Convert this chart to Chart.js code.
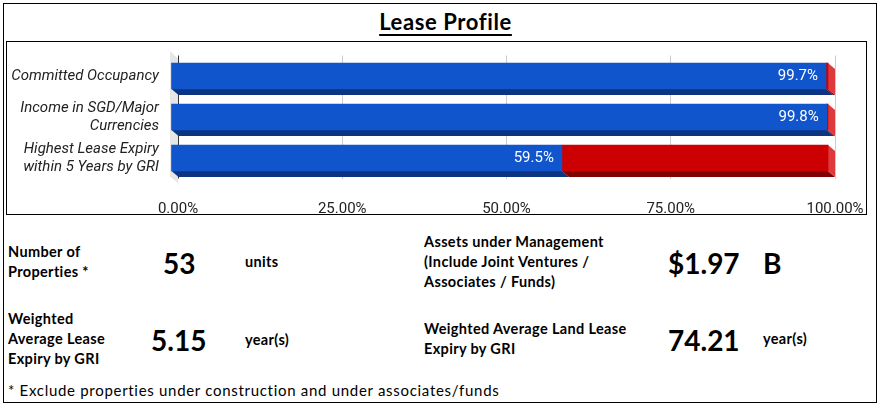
<!DOCTYPE html>
<html>
<head>
<meta charset="utf-8">
<script src="https://cdn.jsdelivr.net/npm/chart.js@4/dist/chart.umd.min.js"></script>
<style>
  html, body { margin: 0; padding: 0; background: #fff; }
  body { width: 883px; height: 409px; position: relative; overflow: hidden; font-family: Lato, "Open Sans", sans-serif; color: #000; }
  #outer { position: absolute; left: 3px; top: 3px; width: 874px; height: 400px; border: 1px solid #000; box-sizing: border-box; }
  #title { position: absolute; left: 4px; width: 883px; top: 9px; text-align: center; font-weight: 700; font-size: 22px; letter-spacing: 0.6px; line-height: 26px; text-decoration: underline; text-decoration-thickness: 2px; text-underline-offset: 4px; }
  #chartBox { position: absolute; left: 6px; top: 41px; width: 861px; height: 174px; border: 1px solid #000; box-sizing: border-box; }
  #chartBox canvas { position: absolute; left: 0; top: 0; }
  .t { position: absolute; white-space: nowrap; }
  .lbl { font-weight: 700; font-size: 14.5px; letter-spacing: 0.35px; line-height: 20px; }
  .big { font-weight: 700; font-size: 28px; line-height: 28px; }
  .foot { font-size: 15px; letter-spacing: 0.7px; line-height: 20px; }
</style>
</head>
<body>
<div id="outer"></div>
<div id="title">Lease Profile</div>
<div id="chartBox"><canvas id="c" width="859" height="172" style="width:859px;height:172px"></canvas></div>

<div class="t lbl" style="left:8px; top:242px;">Number of<br>Properties *</div>
<div class="t big" style="left:163px; top:249px;">53</div>
<div class="t lbl" style="left:245px; top:252px;">units</div>

<div class="t lbl" style="left:8px; top:309px;">Weighted<br>Average Lease<br>Expiry by GRI</div>
<div class="t big" style="left:151px; top:326px;">5.15</div>
<div class="t lbl" style="left:245px; top:330px;">year(s)</div>

<div class="t lbl" style="left:424px; top:232px;">Assets under Management<br>(Include Joint Ventures /<br>Associates / Funds)</div>
<div class="t big" style="left:668px; top:249px;">$1.97</div>
<div class="t big" style="left:763px; top:249px;">B</div>

<div class="t lbl" style="left:424px; top:319px;">Weighted Average Land Lease<br>Expiry by GRI</div>
<div class="t big" style="left:668px; top:326px;">74.21</div>
<div class="t lbl" style="left:763px; top:329px;">year(s)</div>

<div class="t foot" style="left:8px; top:380px;">* Exclude properties under construction and under associates/funds</div>

<script>
// ---- data ----
const categories = [
  'Committed Occupancy',
  ['Income in SGD/Major', 'Currencies'],
  ['Highest Lease Expiry', 'within 5 Years by GRI']
];
const mainValues = [99.7, 99.8, 59.5];
const restValues = [0.3, 0.2, 40.5];
const valueLabels = ['99.7%', '99.8%', '59.5%'];
const xTicks = [0, 25, 50, 75, 100];

// ---- styling constants ----
const DEPTH_X = 7, DEPTH_Y = 6;
const frontColors = ['#1155cc', '#cc0000'];
const bottomColors = ['#0c3483', '#820000'];
const sideColors = ['#1d4fa8', '#e0393b'];

const threeD = {
  id: 'threeD',
  beforeDatasetsDraw(chart) {
    const ctx = chart.ctx;
    const a = chart.chartArea;
    // left wall
    ctx.save();
    ctx.fillStyle = '#e6e6e6';
    ctx.beginPath();
    ctx.moveTo(a.left - 8, a.top - 4.5);
    ctx.lineTo(a.left, a.top + 3);
    ctx.lineTo(a.left, a.bottom + 4.5);
    ctx.lineTo(a.left - 8, a.bottom - 2);
    ctx.closePath();
    ctx.fill();
    ctx.restore();
    // zero axis line on top of wall
    const x0 = chart.scales.x.getPixelForValue(0);
    ctx.save();
    ctx.strokeStyle = '#333';
    ctx.lineWidth = 1;
    ctx.beginPath();
    ctx.moveTo(Math.round(x0) + 0.5, a.top);
    ctx.lineTo(Math.round(x0) + 0.5, a.bottom);
    ctx.stroke();
    ctx.restore();
    // bottom and side faces
    chart.data.datasets.forEach((ds, di) => {
      const meta = chart.getDatasetMeta(di);
      meta.data.forEach((el) => {
        const p = el.getProps(['x', 'y', 'base', 'height'], true);
        const x1 = p.base - DEPTH_X, x2 = p.x - DEPTH_X;
        const yb = p.y + p.height / 2, yt = p.y - p.height / 2;
        ctx.save();
        ctx.fillStyle = bottomColors[di];
        ctx.beginPath();
        ctx.moveTo(x1, yb);
        ctx.lineTo(x2, yb);
        ctx.lineTo(x2 + DEPTH_X, yb + DEPTH_Y);
        ctx.lineTo(x1 + DEPTH_X, yb + DEPTH_Y);
        ctx.closePath();
        ctx.fill();
        if (di === chart.data.datasets.length - 1) {
          ctx.fillStyle = sideColors[di];
          ctx.beginPath();
          ctx.moveTo(x2, yt);
          ctx.lineTo(x2 + DEPTH_X, yt + DEPTH_Y);
          ctx.lineTo(x2 + DEPTH_X, yb + DEPTH_Y);
          ctx.lineTo(x2, yb);
          ctx.closePath();
          ctx.fill();
        }
        ctx.restore();
      });
    });
    ctx.save();
    ctx.translate(-DEPTH_X, 0);
  },
  afterDatasetsDraw(chart) {
    const ctx = chart.ctx;
    ctx.restore();
    const meta = chart.getDatasetMeta(0);
    ctx.save();
    ctx.fillStyle = '#ffffff';
    ctx.font = '15px Roboto';
    ctx.textAlign = 'right';
    ctx.textBaseline = 'middle';
    meta.data.forEach((el, i) => {
      const p = el.getProps(['x', 'y'], true);
      ctx.fillText(valueLabels[i], p.x - DEPTH_X - 8, p.y);
    });
    ctx.restore();
  }
};

new Chart(document.getElementById('c'), {
  type: 'bar',
  data: {
    labels: categories,
    datasets: [
      { data: mainValues, backgroundColor: frontColors[0], borderWidth: 0, barThickness: 26, clip: false },
      { data: restValues, backgroundColor: frontColors[1], borderWidth: 0, barThickness: 26, clip: false }
    ]
  },
  options: {
    indexAxis: 'y',
    responsive: false,
    animation: false,
    layout: { padding: { left: 0, top: 13.5, right: 31, bottom: 0 } },
    plugins: { legend: { display: false }, tooltip: { enabled: false } },
    scales: {
      x: {
        stacked: true,
        min: 0, max: 100,
        afterBuildTicks(scale) { scale.ticks = xTicks.map(v => ({ value: v })); },
        afterFit(scale) {
          scale.height = 35.5;
          scale.paddingLeft = 0; scale.paddingRight = 0;
          scale.paddingTop = 0; scale.paddingBottom = 0;
        },
        grid: {
          color: (c) => (c.tick && c.tick.value === 0) ? 'rgba(0,0,0,0)' : '#cccccc',
          drawTicks: false,
          lineWidth: 1
        },
        border: { display: false },
        ticks: {
          padding: 22,
          autoSkip: false,
          maxRotation: 0,
          color: '#222',
          font: { family: 'Roboto', size: 15 },
          callback: (v) => Number(v).toFixed(2) + '%'
        }
      },
      y: {
        stacked: true,
        afterFit(scale) {
          scale.width = 171;
          scale.paddingLeft = 0; scale.paddingRight = 0;
          scale.paddingTop = 0; scale.paddingBottom = 0;
        },
        grid: { display: false, drawTicks: false },
        border: { display: false },
        ticks: {
          padding: 19,
          autoSkip: false,
          color: '#222',
          font: { family: 'Roboto', size: 15, style: 'italic', lineHeight: 1.23 }
        }
      }
    }
  },
  plugins: [threeD]
});
</script>
</body>
</html>
